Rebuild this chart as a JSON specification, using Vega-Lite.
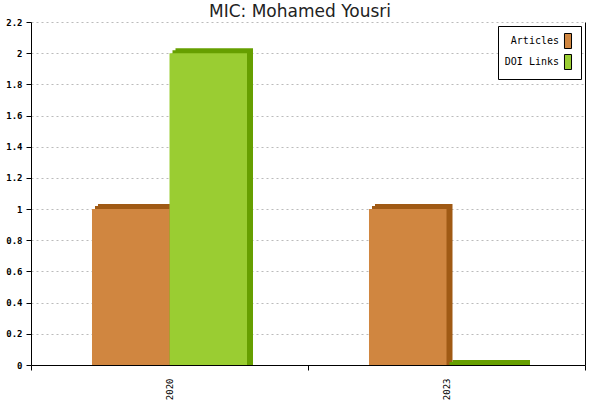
{
  "$schema": "https://vega.github.io/schema/vega-lite/v6.json",
  "title": {
    "text": "MIC: Mohamed Yousri",
    "font": "DejaVu Sans",
    "fontSize": 17,
    "fontWeight": "normal",
    "color": "#222222",
    "anchor": "middle",
    "dx": -8,
    "dy": 7,
    "offset": 4
  },
  "width": 554,
  "height": 343,
  "autosize": "none",
  "padding": {"left": 31, "top": 22, "right": 15, "bottom": 35},
  "data": {
    "values": [
      {"year": "2020", "series": "Articles", "value": 1},
      {"year": "2020", "series": "DOI Links", "value": 2},
      {"year": "2023", "series": "Articles", "value": 1},
      {"year": "2023", "series": "DOI Links", "value": 0}
    ]
  },
  "config": {
    "view": {"stroke": null},
    "axis": {
      "labelFont": "DejaVu Sans Mono",
      "labelFontSize": 9,
      "labelColor": "#000000",
      "domainColor": "#000000",
      "tickColor": "#000000",
      "tickSize": 5,
      "title": null
    }
  },
  "encoding": {
    "x": {
      "field": "year",
      "type": "nominal",
      "scale": {"paddingInner": 0, "paddingOuter": 0},
      "axis": {
        "labelAngle": 270,
        "tickBand": "extent",
        "labelPadding": 8,
        "grid": false
      }
    }
  },
  "layer": [
    {
      "mark": {"type": "bar", "yOffset": -5},
      "encoding": {
        "xOffset": {
          "field": "series",
          "type": "nominal",
          "scale": {"paddingInner": 0, "paddingOuter": 0.787, "range": [6, 283]}
        },
        "y": {
          "field": "value",
          "type": "quantitative",
          "scale": {"domain": [0, 2.2], "nice": false},
          "axis": {
            "values": [0, 0.2, 0.4, 0.6, 0.8, 1, 1.2, 1.4, 1.6, 1.8, 2, 2.2],
            "format": "~g",
            "grid": true,
            "gridDash": [2, 3],
            "gridColor": "#bbbbbb",
            "labelPadding": 4,
            "labelFontWeight": "bold"
          }
        },
        "y2": {"datum": 0},
        "color": {
          "field": "series",
          "type": "nominal",
          "scale": {"domain": ["Articles", "DOI Links"], "range": ["#a05a14", "#669f00"]},
          "legend": null
        }
      }
    },
    {
      "mark": {"type": "bar", "yOffset": -3},
      "encoding": {
        "xOffset": {
          "field": "series",
          "type": "nominal",
          "scale": {"paddingInner": 0, "paddingOuter": 0.787, "range": [3, 280]}
        },
        "y": {"field": "value", "type": "quantitative", "axis": null},
        "y2": {"datum": 0},
        "color": {
          "field": "series",
          "type": "nominal",
          "scale": {"domain": ["Articles", "DOI Links"], "range": ["#a05a14", "#669f00"]},
          "legend": null
        }
      }
    },
    {
      "mark": {"type": "bar"},
      "encoding": {
        "xOffset": {
          "field": "series",
          "type": "nominal",
          "scale": {"paddingInner": 0, "paddingOuter": 0.787}
        },
        "y": {
          "field": "value",
          "type": "quantitative",
          "axis": {
            "orient": "right",
            "labels": false,
            "ticks": false,
            "grid": false,
            "values": [0, 2.2]
          }
        },
        "color": {
          "field": "series",
          "type": "nominal",
          "scale": {"domain": ["Articles", "DOI Links"], "range": ["#d08640", "#9acd32"]},
          "legend": {
            "title": null,
            "orient": "top-right",
            "offset": 4,
            "padding": 7,
            "fillColor": "#ffffff",
            "strokeColor": "#000000",
            "labelFont": "DejaVu Sans Mono",
            "labelFontSize": 10,
            "labelColor": "#000000",
            "labelAlign": "right",
            "labelOffset": -17,
            "symbolOffset": 55,
            "symbolType": "M-0.47,-1L0.47,-1L0.47,1L-0.47,1Z",
            "symbolSize": 225,
            "symbolStrokeColor": "#000000",
            "symbolStrokeWidth": 1,
            "symbolOpacity": 1,
            "rowPadding": 1
          }
        }
      }
    }
  ],
  "resolve": {
    "scale": {"color": "independent", "xOffset": "independent"},
    "axis": {"y": "independent"}
  }
}
